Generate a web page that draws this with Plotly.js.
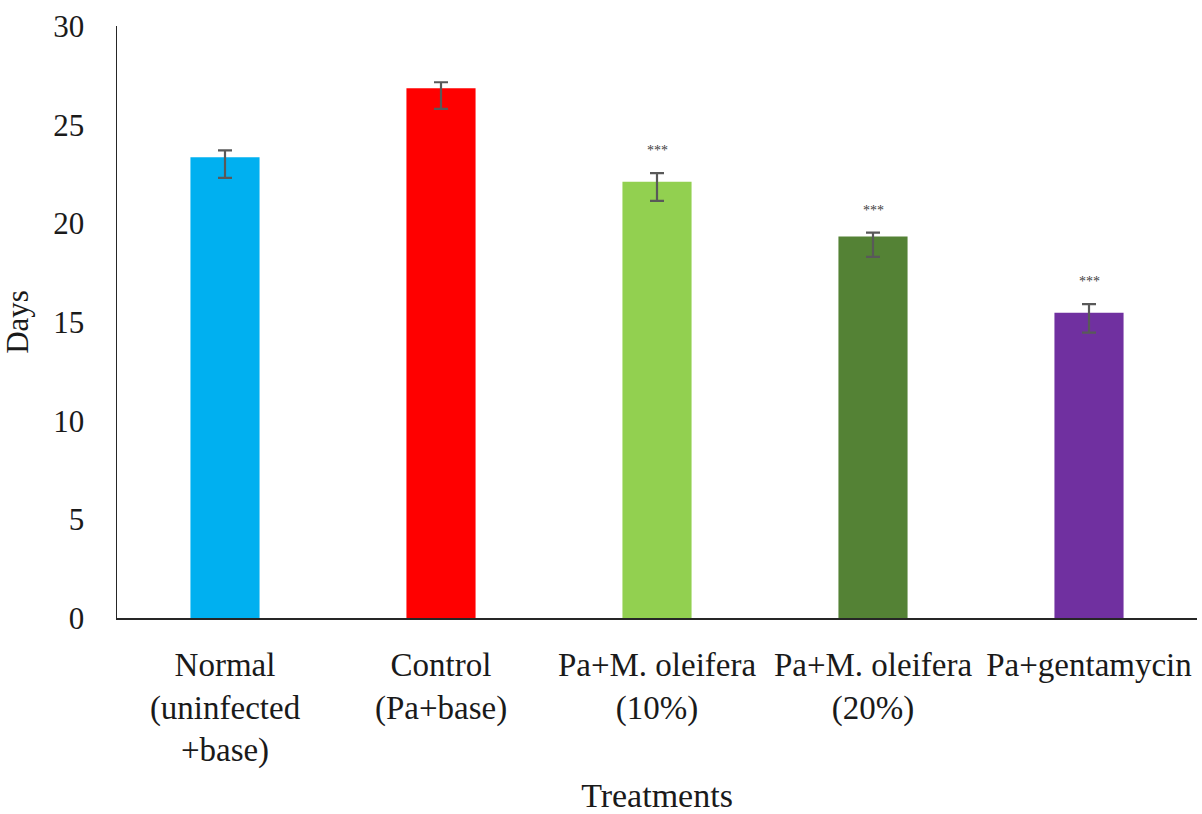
<!DOCTYPE html>
<html>
<head>
<meta charset="utf-8">
<script src="https://cdn.plot.ly/plotly-3.0.1.min.js"></script>
<style>html,body{margin:0;padding:0;background:#fff;}#chart{width:1202px;height:814px;}</style>
</head>
<body>
<div id="chart"></div>
<script>
var categories = ["Normal<br>(uninfected<br>+base)", "Control<br>(Pa+base)", "Pa+M. oleifera<br>(10%)", "Pa+M. oleifera<br>(20%)", "Pa+gentamycin"];
var days = [23.35, 26.85, 22.11, 19.33, 15.47];
var errPlus = [0.35, 0.30, 0.43, 0.20, 0.44];
var errMinus = [1.05, 1.05, 0.97, 1.03, 1.01];
var sigLabels = ["", "", "***", "***", "***"];
var barColors = ["#00B0F0", "#FF0000", "#92D050", "#548235", "#7030A0"];

var FONT = "Liberation Serif, Times New Roman, serif";

var trace = {
  type: "bar",
  x: categories,
  y: days,
  marker: {color: barColors, line: {width: 0}},
  error_y: {type: "data", symmetric: false, array: errPlus, arrayminus: errMinus,
            color: "#595959", thickness: 2.2, width: 7},
  hoverinfo: "x+y"
};

var annotations = [];
for (var i = 0; i < categories.length; i++) {
  if (sigLabels[i]) {
    annotations.push({
      x: categories[i], y: days[i] + errPlus[i], xref: "x", yref: "y",
      text: sigLabels[i], showarrow: false, yanchor: "bottom", yshift: 13,
      font: {family: FONT, size: 14, color: "#404040"}
    });
  }
}

var layout = {
  width: 1202, height: 814,
  margin: {l: 117, r: 5, t: 26, b: 196},
  paper_bgcolor: "#ffffff", plot_bgcolor: "#ffffff",
  showlegend: false,
  bargap: 0.68,
  font: {family: FONT, color: "#1a1a1a"},
  xaxis: {
    showline: true, linecolor: "#262626", linewidth: 2,
    ticks: "", showgrid: false, zeroline: false,
    tickfont: {family: FONT, size: 33, color: "#1a1a1a"},
    ticklabelstandoff: 16,
    automargin: false,
    title: {text: "Treatments", font: {family: FONT, size: 34, color: "#1a1a1a"}, standoff: 36}
  },
  yaxis: {
    range: [0, 30], dtick: 5, tick0: 0,
    showline: true, linecolor: "#262626", linewidth: 1.5,
    ticks: "", showgrid: false, zeroline: false,
    tickfont: {family: FONT, size: 31, color: "#1a1a1a"},
    ticklabelstandoff: 25,
    automargin: false,
    title: {text: "Days", font: {family: FONT, size: 31, color: "#1a1a1a"}, standoff: 16}
  },
  annotations: annotations
};

Plotly.newPlot("chart", [trace], layout, {displayModeBar: false, staticPlot: true});
</script>
</body>
</html>
